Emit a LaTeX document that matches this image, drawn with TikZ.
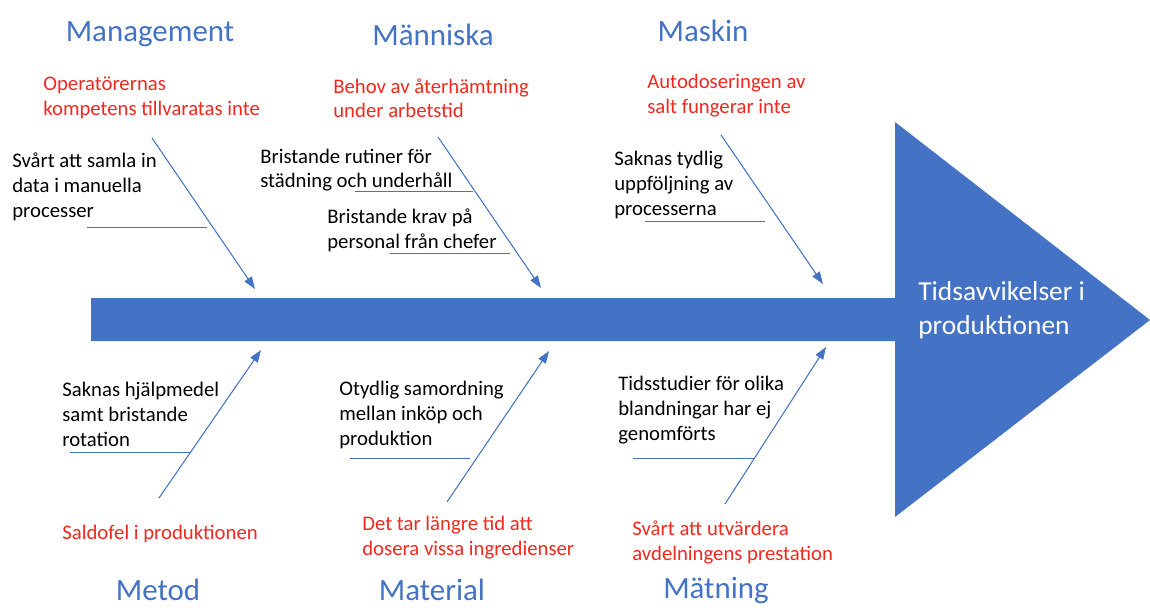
\documentclass[tikz,border=0pt]{standalone}
\usepackage{fontspec}
\setmainfont{Carlito}
\usetikzlibrary{arrows.meta}
\definecolor{fishblue}{HTML}{4472C4}
\definecolor{causered}{HTML}{F0281E}
\begin{document}
\begin{tikzpicture}[x=0.02cm,y=-0.02cm,
  cat/.style={text=fishblue,font=\fontsize{17.6}{21}\selectfont,anchor=base,inner sep=0},
  cause/.style={font=\fontsize{11.8}{14.2}\selectfont,align=left,anchor=base west,inner sep=0},
  rootcause/.style={cause,text=causered},
  subcause/.style={cause,text=black},
  bone/.style={draw=fishblue,line width=0.6pt,-{Triangle[length=7pt,width=5pt]}},
  tick/.style={draw=fishblue,line width=0.5pt}]
\useasboundingbox (0,0) rectangle (1150,608);

% spine with the effect arrowhead
\fill[fishblue] (91,298) -- (895,298) -- (895,122) -- (1150,320) -- (895,517)
  -- (895,341) -- (91,341) -- cycle;
% multi-line nodes are placed by the baseline of their last line
\node[cause,text=white,font=\fontsize{15.6}{19.3}\selectfont] (effect) at (918,334)
  {Tidsavvikelser i\\produktionen};

% category headings
\node[cat] (management) at (150,42) {Management};
\node[cat] (manniska) at (433,46) {Människa};
\node[cat] (maskin) at (703,42) {Maskin};
\node[cat] (metod) at (158,600) {Metod};
\node[cat] (material) at (432,600) {Material};
\node[cat] (matning) at (716,598) {Mätning};

% upper causes
\node[rootcause] (c1) at (43,115) {Operatörernas\\kompetens tillvaratas inte};
\node[rootcause] (c2) at (333,118) {Behov av återhämtning\\under arbetstid};
\node[rootcause] (c3) at (647,113) {Autodoseringen av\\salt fungerar inte};
\node[subcause] (s1) at (12,217) {Svårt att samla in\\data i manuella\\processer};
\node[subcause] (s2) at (260,188) {Bristande rutiner för\\städning och underhåll};
\node[subcause] (s3) at (327,248) {Bristande krav på\\personal från chefer};
\node[subcause] (s4) at (614,215) {Saknas tydlig\\uppföljning av\\processerna};

% lower causes
\node[subcause] (s5) at (62,446) {Saknas hjälpmedel\\samt bristande\\rotation};
\node[subcause] (s6) at (339,445) {Otydlig samordning\\mellan inköp och\\produktion};
\node[subcause] (s7) at (618,440) {Tidsstudier för olika\\blandningar har ej\\genomförts};
\node[rootcause] (c4) at (62,539) {Saldofel i produktionen};
\node[rootcause] (c5) at (362,555) {Det tar längre tid att\\dosera vissa ingredienser};
\node[rootcause] (c6) at (632,560) {Svårt att utvärdera\\avdelningens prestation};

% bone end points
\coordinate (b1s) at (152,138); \coordinate (b1e) at (255,289);
\coordinate (b2s) at (438,137); \coordinate (b2e) at (541,288);
\coordinate (b3s) at (721,135); \coordinate (b3e) at (823,284);
\coordinate (b4s) at (159,498); \coordinate (b4e) at (261,350);
\coordinate (b5s) at (447,502); \coordinate (b5e) at (549,351);
\coordinate (b6s) at (725,504); \coordinate (b6e) at (826,347);
\draw[bone] (b1s) -- (b1e);
\draw[bone] (b2s) -- (b2e);
\draw[bone] (b3s) -- (b3e);
\draw[bone] (b4s) -- (b4e);
\draw[bone] (b5s) -- (b5e);
\draw[bone] (b6s) -- (b6e);

% sub-cause ticks
\coordinate (t1a) at (87,227);  \coordinate (t1b) at (207,227);
\coordinate (t2a) at (355,191); \coordinate (t2b) at (473,191);
\coordinate (t3a) at (390,253); \coordinate (t3b) at (510,253);
\coordinate (t4a) at (645,221); \coordinate (t4b) at (765,221);
\coordinate (t5a) at (70,452);  \coordinate (t5b) at (190,452);
\coordinate (t6a) at (350,458); \coordinate (t6b) at (470,458);
\coordinate (t7a) at (633,458); \coordinate (t7b) at (754,458);
\draw[tick] (t1a) -- (t1b);
\draw[tick] (t2a) -- (t2b);
\draw[tick] (t3a) -- (t3b);
\draw[tick] (t4a) -- (t4b);
\draw[tick] (t5a) -- (t5b);
\draw[tick] (t6a) -- (t6b);
\draw[tick] (t7a) -- (t7b);
\end{tikzpicture}
\end{document}
